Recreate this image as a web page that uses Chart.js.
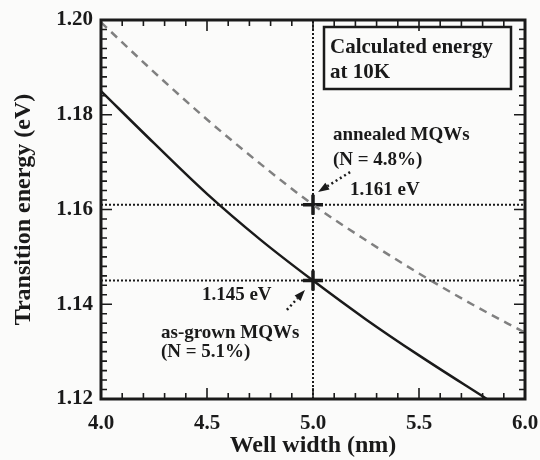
<!DOCTYPE html>
<html>
<head>
<meta charset="utf-8">
<script src="https://cdn.jsdelivr.net/npm/chart.js@4/dist/chart.umd.min.js"></script>
<style>
  html, body { margin: 0; padding: 0; background: #fbfbfa; }
  #wrap { width: 540px; height: 460px; }
</style>
</head>
<body>
<div id="wrap"><canvas id="chart" width="540" height="460"></canvas></div>
<script>
// well width (nm) and calculated transition energies (eV)
const asGrownWidth = [4.0, 4.25, 4.5, 4.75, 5.0, 5.25, 5.5, 5.82];
const asGrownEnergy = [1.185, 1.174, 1.1633, 1.1537, 1.145, 1.1368, 1.1292, 1.12];
const annealedWidth = [4.0, 4.25, 4.5, 4.75, 5.0, 5.25, 5.5, 5.75, 6.0];
const annealedEnergy = [1.1995, 1.189, 1.179, 1.1697, 1.161, 1.1535, 1.1465, 1.140, 1.134];

// marked points at 5.0 nm
const markWidth = 5.0;
const markEnergy = [1.161, 1.145];

const xTicks = [4.0, 4.5, 5.0, 5.5, 6.0];
const yTicks = [1.12, 1.14, 1.16, 1.18, 1.20];

const serif = "'Liberation Serif', 'Times New Roman', serif";
const ink = '#1a1a1a';

// text notes, in data units (left edge, vertical middle)
const notes = [
  { text: 'annealed MQWs', x: 5.094, y: 1.1757 },
  { text: '(N = 4.8%)', x: 5.094, y: 1.1704 },
  { text: '1.161 eV', x: 5.175, y: 1.1641 },
  { text: '1.145 eV', x: 4.476, y: 1.142 },
  { text: 'as-grown MQWs', x: 4.283, y: 1.1339 },
  { text: '(N = 5.1%)', x: 4.283, y: 1.1299 }
];
// arrows: from -> to, in data units
const arrows = [
  { from: [5.175, 1.1679], to: [5.024, 1.1637] },
  { from: [4.877, 1.1388], to: [4.962, 1.1430] }
];

const pts = (xs, ys) => xs.map((x, i) => ({ x: x, y: ys[i] }));
const fontStr = (size) => Chart.helpers.toFont({ family: serif, size: size, weight: 'bold' }).string;

// frame with inward ticks on all four sides, text notes, arrows and the box
const framePlugin = {
  id: 'frame',
  afterDatasetsDraw(chart) {
    const { ctx, chartArea: a, scales: { x, y } } = chart;
    ctx.save();
    ctx.strokeStyle = ink;
    ctx.lineWidth = 1.6;
    for (let i = 0; i <= 20; i++) {
      const v = 4 + i * 0.1;
      const px = x.getPixelForValue(v);
      const len = i % 5 === 0 ? 11 : 6;
      ctx.beginPath();
      ctx.moveTo(px, a.bottom); ctx.lineTo(px, a.bottom - len);
      ctx.moveTo(px, a.top); ctx.lineTo(px, a.top + len);
      ctx.stroke();
    }
    for (let i = 0; i <= 40; i++) {
      const v = 1.12 + i * 0.002;
      const py = y.getPixelForValue(v);
      const len = i % 10 === 0 ? 11 : 6;
      ctx.beginPath();
      ctx.moveTo(a.left, py); ctx.lineTo(a.left + len, py);
      ctx.moveTo(a.right, py); ctx.lineTo(a.right - len, py);
      ctx.stroke();
    }
    ctx.lineWidth = 3;
    ctx.strokeRect(a.left, a.top, a.right - a.left, a.bottom - a.top);

    // arrows
    arrows.forEach(ar => {
      const x0 = x.getPixelForValue(ar.from[0]), y0 = y.getPixelForValue(ar.from[1]);
      const x1 = x.getPixelForValue(ar.to[0]), y1 = y.getPixelForValue(ar.to[1]);
      const ang = Math.atan2(y1 - y0, x1 - x0);
      const hl = 11;
      const bx = x1 - hl * Math.cos(ang), by = y1 - hl * Math.sin(ang);
      ctx.setLineDash([2, 3]);
      ctx.lineWidth = 2.5;
      ctx.beginPath();
      ctx.moveTo(x0, y0); ctx.lineTo(bx, by);
      ctx.stroke();
      ctx.setLineDash([]);
      ctx.fillStyle = ink;
      ctx.beginPath();
      ctx.moveTo(x1, y1);
      ctx.lineTo(bx + 4 * Math.sin(ang), by - 4 * Math.cos(ang));
      ctx.lineTo(bx - 4 * Math.sin(ang), by + 4 * Math.cos(ang));
      ctx.closePath();
      ctx.fill();
    });

    // notes
    ctx.fillStyle = ink;
    ctx.font = fontStr(19);
    ctx.textAlign = 'left';
    ctx.textBaseline = 'middle';
    notes.forEach(n => ctx.fillText(n.text, x.getPixelForValue(n.x), y.getPixelForValue(n.y)));

    // box in the top right corner
    const bx = a.right - 201, by = a.top + 7;
    ctx.lineWidth = 2.5;
    ctx.strokeRect(bx, by, 187, 62);
    ctx.font = fontStr(21);
    ctx.fillText('Calculated energy', bx + 6, by + 21);
    ctx.fillText('at 10K', bx + 6, by + 46);
    ctx.restore();
  }
};

new Chart(document.getElementById('chart'), {
  type: 'scatter',
  data: {
    datasets: [
      {
        label: 'ref x',
        data: [{ x: markWidth, y: yTicks[0] }, { x: markWidth, y: yTicks[yTicks.length - 1] }],
        showLine: true, borderColor: ink, borderWidth: 2, borderDash: [2, 2], pointRadius: 0
      },
      ...markEnergy.map(e => ({
        label: 'ref ' + e,
        data: [{ x: xTicks[0], y: e }, { x: xTicks[xTicks.length - 1], y: e }],
        showLine: true, borderColor: ink, borderWidth: 2, borderDash: [2, 2], pointRadius: 0
      })),
      {
        label: 'annealed',
        data: pts(annealedWidth, annealedEnergy),
        showLine: true, borderColor: '#808080', borderWidth: 2.5, borderDash: [8, 6],
        cubicInterpolationMode: 'monotone', pointRadius: 0
      },
      {
        label: 'as-grown',
        data: pts(asGrownWidth, asGrownEnergy),
        showLine: true, borderColor: ink, borderWidth: 2.5,
        cubicInterpolationMode: 'monotone', pointRadius: 0
      },
      {
        label: 'marks',
        data: markEnergy.map(e => ({ x: markWidth, y: e })),
        showLine: false, pointStyle: 'cross', pointRadius: 10,
        borderColor: ink, pointBorderWidth: 3.5
      }
    ]
  },
  options: {
    responsive: false,
    animation: false,
    layout: { padding: { left: 0, top: 20, right: 15, bottom: 0 } },
    plugins: { legend: { display: false }, tooltip: { enabled: false } },
    scales: {
      x: {
        type: 'linear', min: 4, max: 6,
        afterFit: s => { s.height = 61; s.paddingLeft = 0; s.paddingRight = 0; },
        afterBuildTicks: s => { s.ticks = xTicks.map(v => ({ value: v })); },
        grid: { display: false, drawTicks: false },
        border: { display: false },
        ticks: {
          padding: 12, color: ink, maxRotation: 0,
          font: { family: serif, size: 21, weight: 'bold' },
          callback: v => Number(v).toFixed(1)
        },
        title: {
          display: true, text: 'Well width (nm)', color: ink,
          font: { family: serif, size: 24, weight: 'bold' },
          padding: { top: 0, bottom: 0 }
        }
      },
      y: {
        type: 'linear', min: 1.12, max: 1.20,
        afterFit: s => { s.width = 101; s.paddingTop = 0; s.paddingBottom = 0; },
        afterBuildTicks: s => { s.ticks = yTicks.map(v => ({ value: v })); },
        grid: { display: false, drawTicks: false },
        border: { display: false },
        ticks: {
          padding: 8, color: ink,
          font: { family: serif, size: 21, weight: 'bold' },
          callback: v => Number(v).toFixed(2)
        },
        title: {
          display: true, text: 'Transition energy (eV)', color: ink,
          font: { family: serif, size: 24, weight: 'bold' },
          padding: { top: 9, bottom: 0 }
        }
      }
    }
  },
  plugins: [framePlugin]
});
</script>
</body>
</html>
